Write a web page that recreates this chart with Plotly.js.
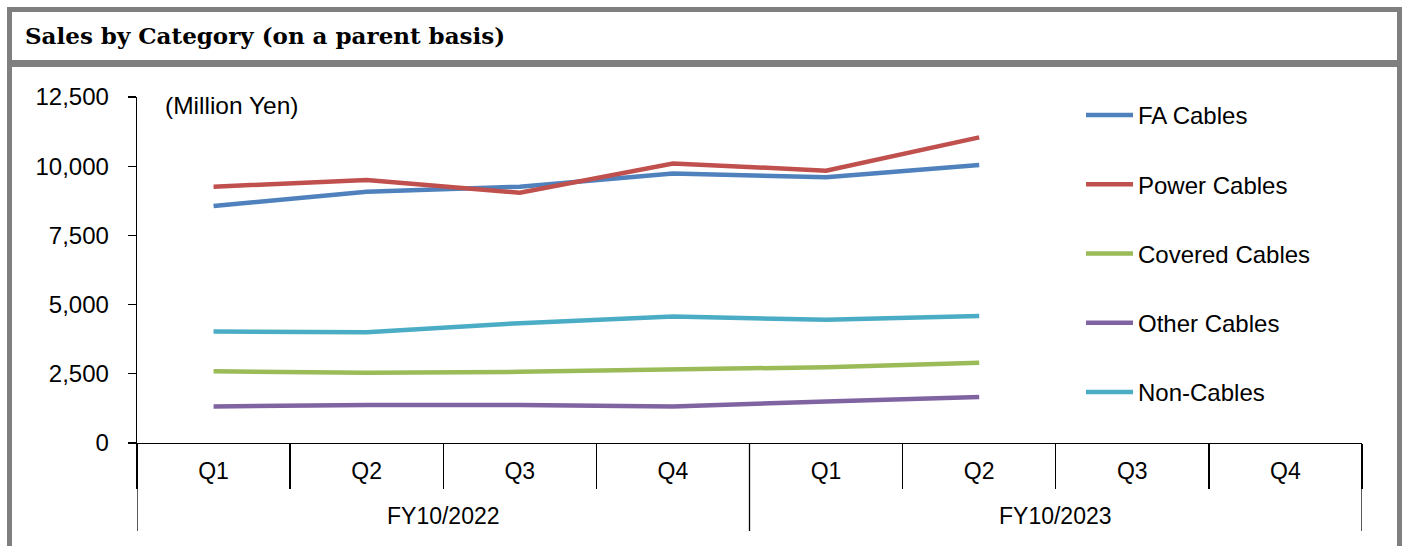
<!DOCTYPE html>
<html>
<head>
<meta charset="utf-8">
<script src="https://cdn.plot.ly/plotly-3.0.1.min.js"></script>
<style>html,body{margin:0;padding:0;background:#fff;}#chart{width:1402px;height:546px;}</style>
</head>
<body>
<div id="chart"></div>
<script>
// ---- data ----
var fiscalYears = ["FY10/2022","FY10/2022","FY10/2022","FY10/2022","FY10/2023","FY10/2023","FY10/2023","FY10/2023"];
var quarters = ["Q1","Q2","Q3","Q4","Q1","Q2","Q3","Q4"];
var faCables      = [8560, 9080, 9260, 9740, 9600, 10040, null, null];
var powerCables   = [9260, 9500, 9040, 10100, 9840, 11040, null, null];
var coveredCables = [2590, 2540, 2570, 2670, 2740, 2900, null, null];
var otherCables   = [1320, 1370, 1370, 1320, 1500, 1660, null, null];
var nonCables     = [4030, 4005, 4330, 4570, 4450, 4590, null, null];
var seriesNames = ["FA Cables","Power Cables","Covered Cables","Other Cables","Non-Cables"];
var seriesColors = ["#4F81BD","#C0504D","#9BBB59","#8064A2","#4BACC6"];
var yTicks = [0, 2500, 5000, 7500, 10000, 12500];
var titleText = "Sales by Category (on a parent basis)";
var unitText = "(Million Yen)";

// ---- layout helpers (pixel -> paper) ----
var L = 137, R = 40, T = 97, B = 103, W = 1402, H = 546;
var PW = W - L - R, PH = H - T - B;
function px(x){ return (x - L) / PW; }
function py(y){ return (H - B - y) / PH; }

var xCats = fiscalYears.map(function(fy, i){ return fy + " " + quarters[i]; });

var seriesValues = [faCables, powerCables, coveredCables, otherCables, nonCables];
var traces = seriesValues.map(function(vals, i){
  return {
    type: "scatter", mode: "lines",
    x: xCats, y: vals,
    name: seriesNames[i], legendgroup: "g" + i,
    line: {color: seriesColors[i], width: 4.5},
    connectgaps: false, hoverinfo: "skip"
  };
});

// fiscal-year group labels and dividers, placed on the category scale
var groups = [];
fiscalYears.forEach(function(fy, i){
  var g = groups.length ? groups[groups.length - 1] : null;
  if (!g || g.name !== fy) { groups.push({name: fy, first: i, last: i}); }
  else { g.last = i; }
});

var font = "Liberation Sans, Arial, sans-serif";
var gray = "#7F7F7F";
function rect(x0,y0,x1,y1){
  return {type:"rect", xref:"paper", yref:"paper", x0:px(x0), x1:px(x1), y0:py(y0), y1:py(y1),
          fillcolor: gray, line:{width:0}, layer:"above"};
}
var shapes = [rect(7,7,1402,12), rect(7,7,12,546), rect(1397,7,1402,546), rect(7,60,1402,67)];
var dividerPos = [groups[0].first - 0.5].concat(groups.map(function(g){ return g.last + 0.5; }));
dividerPos.forEach(function(d){
  shapes.push({type:"line", xref:"x", yref:"paper", x0:d, x1:d, y0:py(443), y1:py(531),
               line:{color:"#000", width:1.3}});
});

var annotations = [{
  text: unitText, xref: "paper", yref: "paper", x: px(163), y: py(105),
  xanchor: "left", yanchor: "middle", showarrow: false,
  font: {family: font, size: 24.5, color: "#000"}
}];
groups.forEach(function(g){
  annotations.push({text: g.name, xref: "x", yref: "paper", x: (g.first + g.last) / 2, y: py(516),
    xanchor: "center", yanchor: "middle", showarrow: false,
    font: {family: font, size: 23, color: "#000"}});
});

var layout = {
  width: W, height: H,
  margin: {l: L, r: R, t: T, b: B, pad: 0},
  paper_bgcolor: "#fff", plot_bgcolor: "#fff",
  showlegend: true,
  title: {text: titleText, font: {family: "DejaVu Serif, serif", size: 23, weight: 600, color: "#000"},
          xref: "container", yref: "container", x: 25/W, xanchor: "left", y: 1 - 36/H, yanchor: "middle"},
  xaxis: {
    type: "category", categoryorder: "array", categoryarray: xCats,
    tickvals: xCats, ticktext: quarters,
    range: [-0.5, xCats.length - 0.5], fixedrange: true,
    showline: true, linecolor: "#000", linewidth: 1.3,
    ticks: "outside", tickson: "boundaries", ticklen: 45, tickcolor: "#000", tickwidth: 1.3,
    ticklabelstandoff: 7,
    showgrid: false, zeroline: false,
    tickfont: {family: font, size: 23, color: "#000"}
  },
  yaxis: {
    range: [0, 12500], tickvals: yTicks, ticktext: yTicks.map(function(v){return v.toLocaleString("en-US");}),
    showline: true, linecolor: "#000", linewidth: 1.3,
    ticks: "outside", ticklen: 8, tickcolor: "#000", tickwidth: 1.3,
    ticklabelstandoff: 14,
    showgrid: false, zeroline: false, fixedrange: true,
    tickfont: {family: font, size: 24, color: "#000"}
  },
  legend: {
    x: px(1081), xanchor: "left", y: py(93), yanchor: "top",
    font: {family: font, size: 24, color: "#000"},
    bgcolor: "rgba(0,0,0,0)", borderwidth: 0, maxheight: 500,
    itemwidth: 47, tracegroupgap: 35, traceorder: "grouped"
  },
  annotations: annotations,
  shapes: shapes
};

Plotly.newPlot("chart", traces, layout, {staticPlot: true, displayModeBar: false});
</script>
</body>
</html>
